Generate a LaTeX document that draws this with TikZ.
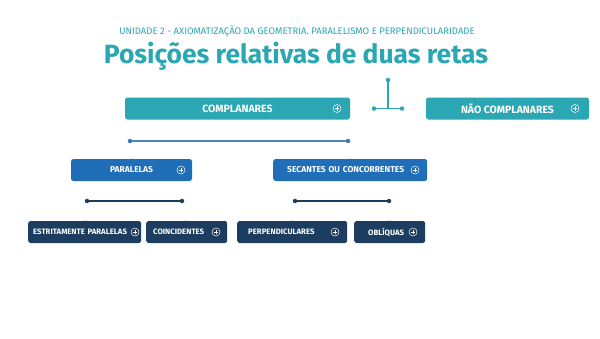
\documentclass[tikz,border=0pt]{standalone}
\usepackage{fontspec}
\setmainfont{Fira Sans}
\definecolor{teal1}{HTML}{2AA7B3}
\definecolor{blue1}{HTML}{1F6EB7}
\definecolor{navy1}{HTML}{1C3D5F}
\definecolor{line1}{HTML}{4C86BF}
\tikzset{
  box/.style={rounded corners=2.5pt, minimum height=22pt, inner sep=0pt, text=white, font=\bfseries},
  tealbox/.style={box, fill=teal1, font=\bfseries\fontsize{10.5}{12}\selectfont},
  bluebox/.style={box, fill=blue1, font=\bfseries\fontsize{8.5}{10}\selectfont},
  navybox/.style={box, fill=navy1, font=\bfseries\fontsize{7.8}{9}\selectfont},
  conn/.style={line width=1.6pt},
  dot/.style={circle, inner sep=0pt, minimum size=4.5pt},
  plusc/.pic={\draw[white, line width=0.5pt] (0,0) circle (4pt); \draw[white, line width=0.5pt] (-2.3pt,0) -- (2.3pt,0) (0,-2.3pt) -- (0,2.3pt);},
  tick/.pic={\fill[#1] (-2pt,0.2pt) -- (0,-2pt) -- (2pt,0.2pt) -- cycle;}
}
\begin{document}
\begin{tikzpicture}[x=1pt,y=-1pt]
\useasboundingbox[fill=white] (0,0) rectangle (600,338);
\node[text=teal1, font=\fontsize{9.5}{11}\selectfont] (sub) at (297,31) {UNIDADE 2 - AXIOMATIZAÇÃO DA GEOMETRIA. PARALELISMO E PERPENDICULARIDADE};
\node[text=teal1, font=\bfseries\fontsize{26.4}{30}\selectfont] (title) at (296,56) {Posições relativas de duas retas};
% top row
\node[tealbox, minimum width=225pt] (comp) at (237.5,108.5) {COMPLANARES};
\node[tealbox, minimum width=163pt] (ncomp) at (507.5,108.5) {NÃO COMPLANARES};
\pic at (337,108.5) {plusc};
\pic at (575,108.5) {plusc};
% T connector
\node[dot, fill=teal1] (t0) at (388,80) {};
\coordinate (tm) at (388,108.5);
\node[dot, fill=teal1] (tl) at (374,108.5) {};
\node[dot, fill=teal1] (tr) at (402,108.5) {};
\draw[teal1, conn] (t0) -- (tm);
\draw[teal1, conn] (tl) -- (tr);
% line under complanares
\node[dot, fill=line1!80!navy1] (a1) at (130,141) {};
\node[dot, fill=line1!80!navy1] (a2) at (348,141) {};
\draw[line1, conn] (a1) -- (a2);
% second row
\node[bluebox, minimum width=121pt] (par) at (131.5,170) {PARALELAS};
\node[bluebox, minimum width=154pt, anchor=west, text width=150pt, align=left] (sec) at (273,170) {\hspace*{12pt}SECANTES OU CONCORRENTES};
\pic at (181,170) {plusc};
\pic at (415,170) {plusc};
\pic at (131.5,159) {tick=blue1};
\pic at (350,159) {tick=blue1};
% lines
\node[dot, fill=navy1] (b1) at (87,201) {};
\node[dot, fill=navy1] (b2) at (182,201) {};
\draw[navy1, conn] (b1) -- (b2);
\node[dot, fill=navy1] (c1) at (295,201) {};
\node[dot, fill=navy1] (c2) at (389,201) {};
\draw[navy1, conn] (c1) -- (c2);
% bottom row
\node[navybox, minimum width=113pt, anchor=west, text width=111pt, align=left] (est) at (28,232) {\hspace*{4pt}ESTRITAMENTE PARALELAS};
\node[navybox, minimum width=81pt, anchor=west, text width=79pt, align=left] (coi) at (146,232) {\hspace*{6pt}COINCIDENTES};
\node[navybox, minimum width=110pt, anchor=west, text width=108pt, align=left] (per) at (237,232) {\hspace*{10pt}PERPENDICULARES};
\node[navybox, minimum width=71pt, anchor=west, text width=69pt, align=left] (obl) at (354,232) {\hspace*{13pt}OBLÍQUAS};
\pic at (135,232) {plusc};
\pic at (216,232) {plusc};
\pic at (335,232) {plusc};
\pic at (413,232) {plusc};
\pic at (85,221) {tick=navy1};
\pic at (186,221) {tick=navy1};
\pic at (292,221) {tick=navy1};
\pic at (389,221) {tick=navy1};
\end{tikzpicture}
\end{document}
